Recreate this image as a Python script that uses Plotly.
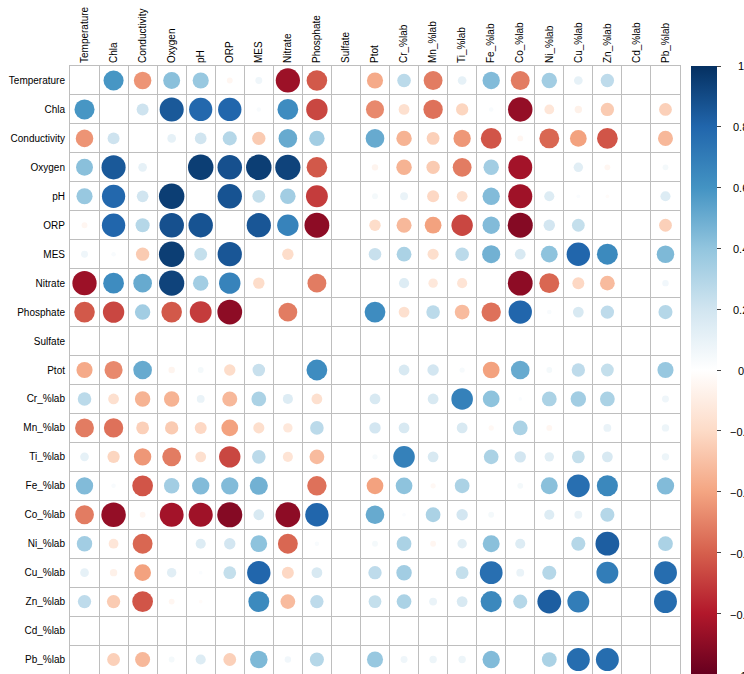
import numpy as np
import plotly.graph_objects as go

# Variable names (row and column order of the correlation matrix)
labels = ["Temperature", "Chla", "Conductivity", "Oxygen", "pH", "ORP", "MES",
          "Nitrate", "Phosphate", "Sulfate", "Ptot", "Cr_%lab", "Mn_%lab",
          "Ti_%lab", "Fe_%lab", "Co_%lab", "Ni_%lab", "Cu_%lab", "Zn_%lab",
          "Cd_%lab", "Pb_%lab"]

# Correlation coefficients, one list per variable (diagonal left empty)
temperature  = [None, 0.59, -0.45, 0.42, 0.38, -0.05, 0.07, -0.86, -0.62, 0, -0.38, 0.27, -0.52, 0.11, 0.44, -0.52, 0.35, 0.11, 0.26, 0, 0]
chla         = [0.59, None, 0.21, 0.85, 0.79, 0.80, 0.03, 0.63, -0.67, 0, -0.48, -0.17, -0.55, -0.22, 0.03, -0.88, -0.14, -0.08, -0.26, 0, -0.24]
conductivity = [-0.45, 0.21, None, 0.11, 0.20, 0.29, -0.26, 0.51, 0.35, 0, 0.51, -0.35, -0.24, -0.44, -0.63, -0.05, -0.58, -0.41, -0.63, 0, -0.33]
oxygen       = [0.42, 0.85, 0.11, None, 0.95, 0.88, 0.95, 0.93, -0.62, 0, -0.06, -0.35, -0.26, -0.52, 0.35, -0.84, 0, 0.13, -0.05, 0, 0.05]
ph           = [0.38, 0.79, 0.20, 0.95, None, 0.87, 0.24, 0.35, -0.70, 0, 0.05, 0.09, -0.21, -0.17, 0.44, -0.85, 0.15, 0.02, -0.02, 0, 0.15]
orp          = [-0.05, 0.80, 0.29, 0.88, 0.87, None, 0.86, 0.67, -0.90, 0, -0.19, -0.33, -0.41, -0.67, 0.44, -0.92, 0.19, 0.24, 0, 0, -0.24]
mes          = [0.07, 0.03, -0.26, 0.95, 0.24, 0.86, None, -0.19, 0, 0, 0.23, 0.32, -0.18, 0.27, 0.48, 0.17, 0.41, 0.80, 0.64, 0, 0.45]
nitrate      = [-0.86, 0.63, 0.51, 0.93, 0.35, 0.67, -0.19, None, -0.52, 0, 0, 0.15, -0.13, -0.15, 0, -0.90, -0.58, -0.21, -0.32, 0, 0.06]
phosphate    = [-0.62, -0.67, 0.35, -0.62, -0.70, -0.90, 0, -0.52, None, 0, 0.63, -0.17, 0.27, -0.32, -0.55, 0.80, 0.03, 0.17, 0.26, 0, 0.29]
sulfate      = [0, 0, 0, 0, 0, 0, 0, 0, 0, None, 0, 0, 0, 0, 0, 0, 0, 0, 0, 0, 0]
ptot         = [-0.38, -0.48, 0.51, -0.06, 0.05, -0.19, 0.23, 0, 0.63, 0, None, 0.17, 0.19, 0.04, -0.41, 0.51, 0.05, 0.26, 0.24, 0, 0.38]
cr_lab       = [0.27, -0.17, -0.35, -0.35, 0.09, -0.33, 0.32, 0.15, -0.17, 0, 0.17, None, 0.17, 0.68, 0.41, 0.02, 0.32, 0.35, 0.32, 0, 0.07]
mn_lab       = [-0.52, -0.55, -0.24, -0.26, -0.21, -0.41, -0.18, -0.13, 0.27, 0, 0.19, 0.17, None, 0.17, -0.04, 0.32, -0.05, 0, 0.09, 0, 0.08]
ti_lab       = [0.11, -0.22, -0.44, -0.52, -0.17, -0.67, 0.27, -0.15, -0.32, 0, 0.04, 0.68, 0.17, None, 0.32, 0.19, 0.13, 0.24, 0.17, 0, 0.08]
fe_lab       = [0.44, 0.03, -0.63, 0.35, 0.44, 0.44, 0.48, 0, -0.55, 0, -0.41, 0.41, -0.04, 0.32, None, 0.05, 0.42, 0.76, 0.65, 0, 0.44]
co_lab       = [-0.52, -0.88, -0.05, -0.84, -0.85, -0.92, 0.17, -0.90, 0.80, 0, 0.51, 0.02, 0.32, 0.19, 0.05, None, 0.15, 0.09, 0.29, 0, 0]
ni_lab       = [0.35, -0.14, -0.58, 0, 0.15, 0.19, 0.41, -0.58, 0.03, 0, 0.05, 0.32, -0.05, 0.13, 0.42, 0.15, None, 0.29, 0.83, 0, 0.32]
cu_lab       = [0.11, -0.08, -0.41, 0.13, 0.02, 0.24, 0.80, -0.21, 0.17, 0, 0.26, 0.35, 0, 0.24, 0.76, 0.09, 0.29, None, 0.70, 0, 0.77]
zn_lab       = [0.26, -0.26, -0.63, -0.05, -0.02, 0, 0.64, -0.32, 0.26, 0, 0.24, 0.32, 0.09, 0.17, 0.65, 0.29, 0.83, 0.70, None, 0, 0.77]
cd_lab       = [0, 0, 0, 0, 0, 0, 0, 0, 0, 0, 0, 0, 0, 0, 0, 0, 0, 0, 0, None, 0]
pb_lab       = [0, -0.24, -0.33, 0.05, 0.15, -0.24, 0.45, 0.06, 0.29, 0, 0.38, 0.07, 0.08, 0.08, 0.44, 0, 0.32, 0.77, 0.77, 0, None]

rows = [temperature, chla, conductivity, oxygen, ph, orp, mes, nitrate,
        phosphate, sulfate, ptot, cr_lab, mn_lab, ti_lab, fe_lab, co_lab,
        ni_lab, cu_lab, zn_lab, cd_lab, pb_lab]

# Colour-bar ticks
cbar_ticks = [1, 0.8, 0.6, 0.4, 0.2, 0, -0.2, -0.4, -0.6, -0.8, -1]
cbar_text = ["1", "0.8", "0.6", "0.4", "0.2", "0", "\u22120.2", "\u22120.4",
             "\u22120.6", "\u22120.8", "\u22121"]

# Diverging red-white-blue palette spread over [-1, 1]
rdbu = ["#67001F", "#B2182B", "#D6604D", "#F4A582", "#FDDBC7", "#FFFFFF",
        "#D1E5F0", "#92C5DE", "#4393C3", "#2166AC", "#053061"]
colorscale = [[i / (len(rdbu) - 1), c] for i, c in enumerate(rdbu)]

W, H = 744, 674
ML, MR, MT, MB = 70, 64, 66, 0
PW, PH = W - ML - MR, H - MT - MB
n = len(labels)
cell = PW / n
grid = "#BEBEBE"
font = "Liberation Sans, Arial, Helvetica, sans-serif"

xs, ys, vals = [], [], []
for i, row in enumerate(rows):
    for j, v in enumerate(row):
        if v is None:
            continue
        xs.append(j + 1)
        ys.append(i + 1)
        vals.append(v)

# circle area proportional to |r|
sizes = [0.9 * np.sqrt(abs(v)) * cell for v in vals]

fig = go.Figure(go.Scatter(
    x=xs, y=ys, mode="markers",
    marker=dict(
        size=sizes, color=vals, colorscale=colorscale, cmin=-1, cmax=1,
        line=dict(width=0), opacity=1,
        showscale=True,
        colorbar=dict(
            x=1 + 11 / PW, xanchor="left", xpad=0,
            y=1, yanchor="top", ypad=0,
            len=PH, lenmode="pixels", thickness=26,
            outlinewidth=0,
            tickmode="array", tickvals=cbar_ticks,
            ticks="outside", ticklen=4, tickcolor="#444444",
            showticklabels=False,
        ),
    ),
    hovertext=[f"{labels[y-1]} / {labels[x-1]}: {v:.2f}" for x, y, v in zip(xs, ys, vals)],
    hoverinfo="text",
))

# Colour-bar labels, centred to the right of the bar (legend spans the
# square grid height, i.e. n cells of the same size as the columns)
legend_span = n * cell
label_x = 1 + (740.5 - ML - PW) / PW
for v, t in zip(cbar_ticks, cbar_text):
    y_px = (1 - v) / 2 * legend_span
    fig.add_annotation(
        x=label_x, y=1 - y_px / PH, xref="paper", yref="paper",
        text=t, showarrow=False, xanchor="center", yanchor="middle",
        font=dict(family=font, size=11, color="black"),
    )

edges = [k + 0.5 for k in range(n + 1)]
fig.update_xaxes(
    range=[0.5, n + 0.5], side="top", tickmode="array",
    tickvals=list(range(1, n + 1)), ticktext=labels, tickangle=-90,
    ticks="", showgrid=False, zeroline=False, automargin=False,
    showline=True, mirror=True, linecolor=grid, linewidth=1,
    tickfont=dict(family=font, size=10, color="black"),
    minor=dict(tickmode="array", tickvals=edges, showgrid=True,
               gridcolor=grid, gridwidth=1, ticks=""),
    fixedrange=True,
)
fig.update_yaxes(
    range=[n + 0.5, 0.5], tickmode="array",
    tickvals=list(range(1, n + 1)), ticktext=labels,
    ticks="", showgrid=False, zeroline=False, automargin=False,
    showline=True, mirror=True, linecolor=grid, linewidth=1,
    tickfont=dict(family=font, size=10, color="black"),
    ticklabelstandoff=2,
    minor=dict(tickmode="array", tickvals=edges, showgrid=True,
               gridcolor=grid, gridwidth=1, ticks=""),
    fixedrange=True,
)
fig.update_layout(
    width=W, height=H,
    margin=dict(l=ML, r=MR, t=MT, b=MB, autoexpand=False),
    paper_bgcolor="white", plot_bgcolor="white",
    showlegend=False,
)

fig.write_html("out.html")
